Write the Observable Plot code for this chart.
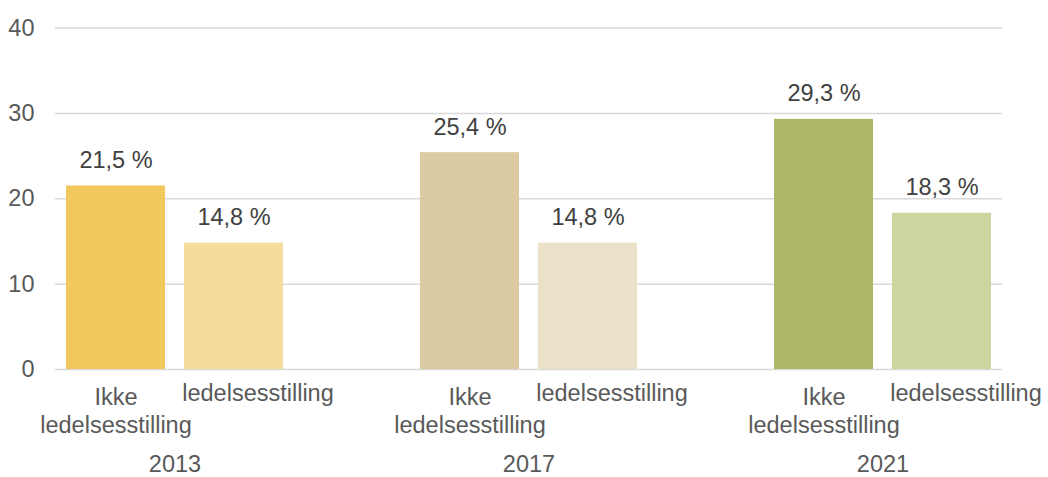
<!DOCTYPE html>
<html>
<head>
<meta charset="utf-8">
<script src="https://cdn.jsdelivr.net/npm/d3@7"></script>
<script src="https://cdn.jsdelivr.net/npm/@observablehq/plot@0.6"></script>
<style>
  html, body { margin: 0; padding: 0; background: #fff; }
  #chart svg { display: block; }
</style>
</head>
<body>
<div id="chart"></div>
<script>
const years = ["2013", "2017", "2021"];
const categories = ["Ikke ledelsesstilling", "ledelsesstilling"];
const axisLabels = ["Ikke\nledelsesstilling", "ledelsesstilling"];
const valuesIkke = [21.5, 25.4, 29.3];
const valuesLedelse = [14.8, 14.8, 18.3];
const colorsIkke = ["#F1C75E", "#DCCAA2", "#AEB765"];
const colorsLedelse = ["#F5DC9C", "#EAE1C8", "#CDD4A0"];
const yTicks = [0, 10, 20, 30, 40];

// Slots: two bars per year, then an empty spacer slot between groups
const domain = [];
years.forEach((yr, i) => {
  categories.forEach((c, j) => domain.push(yr + "|" + j));
  if (i < years.length - 1) domain.push("gap" + i);
});

const data = [];
years.forEach((yr, i) => {
  data.push({key: yr + "|0", year: yr, cat: 0, value: valuesIkke[i], color: colorsIkke[i]});
  data.push({key: yr + "|1", year: yr, cat: 1, value: valuesLedelse[i], color: colorsLedelse[i]});
});

const fmt = v => v.toFixed(1).replace(".", ",") + " %";
const font = "Liberation Sans, Arial, sans-serif";

const chart = Plot.plot({
  width: 1048,
  height: 477,
  marginLeft: 55,
  marginRight: 46,
  marginTop: 27.5,
  marginBottom: 108,
  style: {fontFamily: font, fontSize: "23px", background: "#fff"},
  x: {domain, paddingInner: 0.165, paddingOuter: 0.0825, axis: null, label: null},
  y: {domain: [0, 40], axis: null, label: null},
  marks: [
    Plot.gridY(yTicks, {stroke: "#D9D9D9", strokeOpacity: 1, strokeWidth: 1.5}),
    Plot.barY(data, {x: "key", y: "value", fill: "color"}),
    Plot.text(data, {x: "key", y: "value", text: d => fmt(d.value), lineAnchor: "bottom", dy: -18, fill: "#404040", fontSize: 23.5}),
    Plot.axisY(yTicks, {tickSize: 0, tickPadding: 21, fill: "#595959", fontSize: 23.5, anchor: "left", label: null}),
    Plot.axisX(data.filter(d => d.cat === 0).map(d => d.key), {
      tickSize: 0, tickPadding: 15, fill: "#595959", fontSize: 23.5, lineHeight: 1.2, label: null,
      tickFormat: () => axisLabels[0]
    }),
    Plot.axisX(data.filter(d => d.cat === 1).map(d => d.key), {
      tickSize: 0, tickPadding: 15, dx: 24, fill: "#595959", fontSize: 23.5, label: null,
      tickFormat: () => axisLabels[1]
    }),
    Plot.axisX(data.filter(d => d.cat === 0).map(d => d.key), {
      tickSize: 0, tickPadding: 86, dx: 59, fill: "#595959", fontSize: 23.5, label: null,
      tickFormat: k => k.split("|")[0]
    })
  ]
});
document.getElementById("chart").appendChild(chart);
</script>
</body>
</html>
